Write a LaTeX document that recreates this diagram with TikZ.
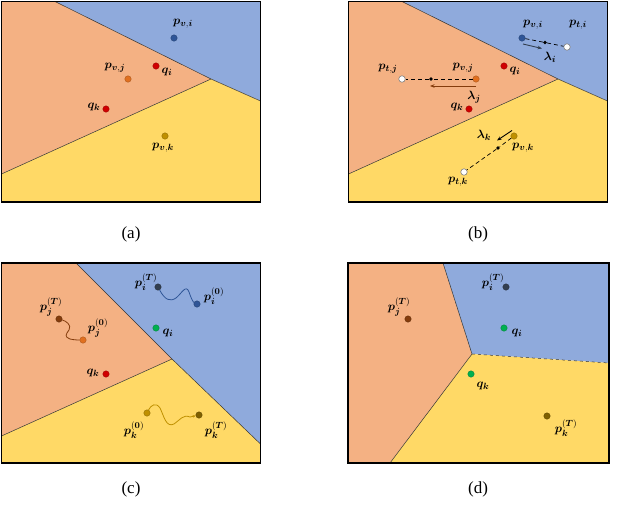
\documentclass[tikz,border=0pt]{standalone}
\usepackage{amsmath}
\usepackage{bm}
\usepackage{fontspec}
\setmainfont{Liberation Serif}
\usetikzlibrary{arrows.meta}
\definecolor{regB}{HTML}{8FAADC}
\definecolor{regO}{HTML}{F4B183}
\definecolor{regY}{HTML}{FFD966}
\definecolor{cBlue}{HTML}{2F5597}
\definecolor{cBlueD}{HTML}{333F50}
\definecolor{cRed}{HTML}{D00000}
\definecolor{cOr}{HTML}{E07020}
\definecolor{cOrD}{HTML}{843C0C}
\definecolor{cYel}{HTML}{BF9000}
\definecolor{cYelD}{HTML}{7F6000}
\definecolor{cGreen}{HTML}{00B050}
\tikzset{
  x=1pt,y=-1pt,
  vdot/.style={circle,inner sep=0pt,minimum size=6.5pt,fill=#1,draw=#1!70!black,line width=0.3pt},
  wdot/.style={circle,inner sep=0pt,minimum size=6.5pt,fill=white,draw=gray,line width=0.6pt},
  mdot/.style={circle,inner sep=0pt,minimum size=3.8pt,fill=black},
  lbl/.style={inner sep=0pt,font=\fontsize{13}{15}\selectfont},
  captxt/.style={inner sep=0pt,font=\fontsize{17}{19}\selectfont},
  frame/.style={draw=black,line width=1.5pt},
  border/.style={draw=black!80,line width=0.5pt},
  dashl/.style={line width=0.7pt,dash pattern=on 4pt off 3pt},
  larrow/.style={line width=0.9pt,-{Stealth[length=4.5pt,width=3.5pt]}},
  walk/.style={line width=0.8pt}
}
\begin{document}
\begin{tikzpicture}
\useasboundingbox (0,0) rectangle (640,512);
% ---------------- panel (a) and (b) share partition ----------------
\foreach \dx in {0,347}{
  \begin{scope}[xshift=\dx pt]
  \fill[regB] (55,1.5) -- (260.5,1.5) -- (260.5,101) -- (211,79) -- cycle;
  \fill[regO] (1.5,1.5) -- (55,1.5) -- (211,79) -- (1.5,174) -- cycle;
  \fill[regY] (1.5,174) -- (211,79) -- (260.5,101) -- (260.5,202) -- (1.5,202) -- cycle;
  \draw[border] (55,1.5) -- (211,79) -- (260.5,101);
  \draw[border] (1.5,174) -- (211,79);
  \draw[frame] (1.5,1.5) rectangle (260.5,202);
  \end{scope}
}
% points (a)
\node[vdot=cBlue] (apvi) at (174,38) {};
\node[lbl] (apvil) at (183,24) {$\bm{p}_{\bm{v},\bm{i}}$};
\node[vdot=cRed] (aqi) at (156,66) {};
\node[lbl] (aqil) at (167,72) {$\bm{q}_{\bm{i}}$};
\node[vdot=cOr] (apvj) at (128,79) {};
\node[lbl] (apvjl) at (115,68) {$\bm{p}_{\bm{v},\bm{j}}$};
\node[vdot=cRed] (aqk) at (106,109) {};
\node[lbl] (aqkl) at (94,107) {$\bm{q}_{\bm{k}}$};
\node[vdot=cYel] (apvk) at (165,136) {};
\node[lbl] (apvkl) at (163,148) {$\bm{p}_{\bm{v},\bm{k}}$};
\node[captxt] (capa) at (131,234) {(a)};
% points (b)
\node[vdot=cBlue] (bpvi) at (522,38) {};
\node[wdot] (bpti) at (567,47) {};
\node[mdot] (bmi) at (545,42.5) {};
\draw[dashl] (bpvi) -- (bmi) -- (bpti);
\coordinate (ai1) at (523,44);
\coordinate (ai2) at (542,48.5);
\draw[larrow,cBlueD] (ai1) -- (ai2);
\node[lbl] (bpvil) at (533,25) {$\bm{p}_{\bm{v},\bm{i}}$};
\node[lbl] (bptil) at (578,25) {$\bm{p}_{\bm{t},\bm{i}}$};
\node[lbl] (bli) at (550,57) {$\bm{\lambda}_{\bm{i}}$};
\node[vdot=cRed] (bqi) at (504,66) {};
\node[lbl] (bqil) at (515,71) {$\bm{q}_{\bm{i}}$};
\node[vdot=cOr] (bpvj) at (476,79) {};
\node[wdot] (bptj) at (402,79) {};
\node[mdot] (bmj) at (431,79) {};
\draw[dashl] (bpvj) -- (bmj) -- (bptj);
\coordinate (aj1) at (476,86);
\coordinate (aj2) at (430,86);
\draw[larrow,cOrD] (aj1) -- (aj2);
\node[lbl] (bpvjl) at (463,68) {$\bm{p}_{\bm{v},\bm{j}}$};
\node[lbl] (bptjl) at (388,69) {$\bm{p}_{\bm{t},\bm{j}}$};
\node[lbl] (blj) at (474,97) {$\bm{\lambda}_{\bm{j}}$};
\node[vdot=cRed] (bqk) at (469,109) {};
\node[lbl] (bqkl) at (457,107) {$\bm{q}_{\bm{k}}$};
\node[vdot=cYel] (bpvk) at (514,136) {};
\node[wdot] (bptk) at (464,172) {};
\node[mdot] (bmk) at (498,148) {};
\draw[dashl] (bpvk) -- (bmk) -- (bptk);
\coordinate (ak1) at (512,130.5);
\coordinate (ak2) at (497,140.5);
\draw[larrow,black] (ak1) -- (ak2);
\node[lbl] (bpvkl) at (523,148) {$\bm{p}_{\bm{v},\bm{k}}$};
\node[lbl] (bptkl) at (458,182) {$\bm{p}_{\bm{t},\bm{k}}$};
\node[lbl] (blk) at (484,135) {$\bm{\lambda}_{\bm{k}}$};
\node[captxt] (capb) at (478,234) {(b)};
% ---------------- panel (c) ----------------
\fill[regB] (76,263) -- (260.5,263) -- (260.5,444) -- (172,359) -- cycle;
\fill[regO] (1.5,263) -- (76,263) -- (172,359) -- (1.5,436) -- cycle;
\fill[regY] (1.5,436) -- (172,359) -- (260.5,444) -- (260.5,463) -- (1.5,463) -- cycle;
\draw[border] (76,263) -- (172,359) -- (260.5,444);
\draw[border] (1.5,436) -- (172,359);
\draw[frame] (1.5,263) rectangle (260.5,463);
\node[vdot=cBlueD] (cpiT) at (158,287) {};
\node[vdot=cBlue] (cpi0) at (197,304) {};
\draw[walk,cBlue] (cpiT) .. controls (165,300) and (170,302) .. (176,298) .. controls (182,293) and (186,284) .. (189,292) .. controls (191,298) and (193,302) .. (cpi0);
\node[lbl] (cpiTl) at (146,282) {$\bm{p}_{\bm{i}}^{(\bm{T})}$};
\node[lbl] (cpi0l) at (214,296) {$\bm{p}_{\bm{i}}^{(\bm{0})}$};
\node[vdot=cGreen] (cqi) at (156,328) {};
\node[lbl] (cqil) at (168,333) {$\bm{q}_{\bm{i}}$};
\node[vdot=cOrD] (cpjT) at (59,319) {};
\node[vdot=cOr] (cpj0) at (83,340) {};
\draw[walk,cOrD] (cpjT) .. controls (66,321) and (72,325) .. (69,330) .. controls (66,334) and (64,337) .. (70,339) .. controls (74,340) and (79,340) .. (cpj0);
\node[lbl] (cpjTl) at (51,307) {$\bm{p}_{\bm{j}}^{(\bm{T})}$};
\node[lbl] (cpj0l) at (98,328) {$\bm{p}_{\bm{j}}^{(\bm{0})}$};
\node[vdot=cRed] (cqk) at (106,374) {};
\node[lbl] (cqkl) at (93,373) {$\bm{q}_{\bm{k}}$};
\node[vdot=cYel] (cpk0) at (147,413) {};
\node[vdot=cYelD] (cpkT) at (199,415) {};
\draw[walk,cYel,-{Stealth[length=3pt,width=2.5pt]}] (cpk0) .. controls (151,405) and (156,402) .. (160,408) .. controls (164,416) and (166,428) .. (174,424) .. controls (180,420) and (183,414) .. (190,417) -- (cpkT);
\node[lbl] (cpk0l) at (134,430) {$\bm{p}_{\bm{k}}^{(\bm{0})}$};
\node[lbl] (cpkTl) at (216,430) {$\bm{p}_{\bm{k}}^{(\bm{T})}$};
\node[captxt] (capc) at (131,489) {(c)};
% ---------------- panel (d) ----------------
\fill[regO] (348,263) -- (443,263) -- (472,354) -- (390,463) -- (348,463) -- cycle;
\fill[regB] (443,263) -- (609,263) -- (609,363) -- (472,354) -- cycle;
\fill[regY] (472,354) -- (609,363) -- (609,463) -- (390,463) -- cycle;
\draw[border] (443,263) -- (472,354) -- (390,463);
\draw[border,dashed] (472,354) -- (609,363);
\draw[frame] (348,263) rectangle (609,463);
\node[vdot=cBlueD] (dpiT) at (506,287) {};
\node[lbl] (dpiTl) at (493,282) {$\bm{p}_{\bm{i}}^{(\bm{T})}$};
\node[vdot=cGreen] (dqi) at (504,328) {};
\node[lbl] (dqil) at (517,333) {$\bm{q}_{\bm{i}}$};
\node[vdot=cOrD] (dpjT) at (408,319) {};
\node[lbl] (dpjTl) at (399,307) {$\bm{p}_{\bm{j}}^{(\bm{T})}$};
\node[vdot=cGreen] (dqk) at (471,374) {};
\node[lbl] (dqkl) at (483,386) {$\bm{q}_{\bm{k}}$};
\node[vdot=cYelD] (dpkT) at (547,416) {};
\node[lbl] (dpkTl) at (566,428) {$\bm{p}_{\bm{k}}^{(\bm{T})}$};
\node[captxt] (capd) at (478,489) {(d)};
\end{tikzpicture}
\end{document}
